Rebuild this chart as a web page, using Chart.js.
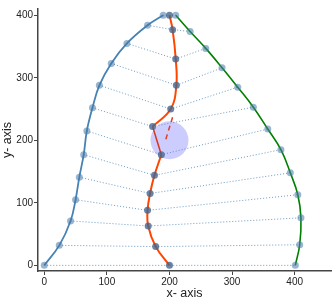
<!DOCTYPE html>
<html>
<head>
<meta charset="utf-8">
<script src="https://cdn.jsdelivr.net/npm/chart.js@4/dist/chart.umd.min.js"></script>
<style>
  html, body { margin: 0; padding: 0; background: #fff; }
  #c { display: block; }
</style>
</head>
<body>
<canvas id="c" width="332" height="306"></canvas>
<script>
// curve points, left (blue), middle (orange), right (green)
const blueX = [190, 165, 132, 107, 88, 77, 68, 63, 56, 50, 42, 24, 0];
const blueY = [400, 384, 355, 323, 288, 252, 215, 177, 141, 105, 71, 32, 0];
const orangeX = [200, 205, 210, 211, 202, 173, 187, 176, 169, 165, 166, 178, 200];
const orangeY = [400, 377, 330, 288, 250, 222, 177, 144, 115, 88, 63, 30, 0];
const greenX = [210, 233, 258, 284, 309, 334, 357, 378, 393, 405, 410, 408, 401];
const greenY = [400, 374, 347, 316, 285, 253, 218, 185, 148, 113, 76, 33, 0];
const dashX = [205, 193];
const dashY = [237, 198];
const circleX = [200];
const circleY = [200];
const xTicks = [0, 100, 200, 300, 400];
const yTicks = [0, 100, 200, 300, 400];

const pts = (xs, ys) => xs.map((x, i) => ({ x: x, y: ys[i] }));
const font = 'Liberation Sans, Arial, sans-serif';

const datasets = [];

// circle in the middle
datasets.push({
  data: pts(circleX, circleY),
  pointRadius: 19,
  pointBackgroundColor: 'rgba(0,0,255,0.2)',
  pointBorderWidth: 0,
  showLine: false,
  order: 20
});

// dotted connectors blue -> orange -> green
for (let i = 0; i < blueX.length; i++) {
  datasets.push({
    data: [{ x: blueX[i], y: blueY[i] }, { x: orangeX[i], y: orangeY[i] }, { x: greenX[i], y: greenY[i] }],
    showLine: true,
    borderColor: 'rgba(70,130,180,0.8)',
    borderWidth: 1,
    borderDash: [1, 2],
    pointRadius: 0,
    tension: 0,
    order: 10
  });
}

const marker = {
  pointRadius: 3.5,
  pointBorderWidth: 0,
  pointBackgroundColor: 'rgba(70,120,170,0.55)'
};

datasets.push(Object.assign({
  data: pts(blueX, blueY),
  showLine: true,
  borderColor: '#4682b4',
  borderWidth: 1.8,
  tension: 0.4,
  order: 2
}, marker));

datasets.push(Object.assign({
  data: pts(greenX, greenY),
  showLine: true,
  borderColor: '#008000',
  borderWidth: 1.6,
  tension: 0.4,
  order: 2
}, marker));

// orange middle curve, broken at the kink
datasets.push({
  data: pts(orangeX.slice(5, 7), orangeY.slice(5, 7)),
  showLine: true,
  borderColor: '#d8361e',
  borderWidth: 1.5,
  pointRadius: 0,
  tension: 0,
  order: 3
});
datasets.push({
  data: pts(dashX, dashY),
  showLine: true,
  borderColor: '#e2401c',
  borderWidth: 1.5,
  borderDash: [5, 4],
  pointRadius: 0,
  tension: 0,
  order: 3
});
datasets.push(Object.assign({}, marker, {
  data: pts(orangeX.slice(0, 6), orangeY.slice(0, 6)),
  showLine: true,
  borderColor: '#ff4500',
  borderWidth: 2,
  tension: 0.4,
  pointBackgroundColor: 'rgba(65,100,140,0.78)',
  order: 1
}));
datasets.push(Object.assign({}, marker, {
  data: pts(orangeX.slice(6), orangeY.slice(6)),
  showLine: true,
  borderColor: '#ff4500',
  borderWidth: 2,
  tension: 0.4,
  pointBackgroundColor: 'rgba(65,100,140,0.78)',
  order: 1
}));

const axis = (ticks, title, fit) => ({
  type: 'linear',
  afterBuildTicks: s => { s.ticks = ticks.map(v => ({ value: v })); },
  afterFit: s => {
    fit(s);
    s.paddingLeft = 0; s.paddingRight = 0; s.paddingTop = 0; s.paddingBottom = 0;
  },
  grid: { drawOnChartArea: false, drawTicks: true, tickLength: 4, color: '#444', lineWidth: 1 },
  border: { display: true, color: '#444', width: 1.5 },
  ticks: { font: { size: 10, family: font }, color: '#222', padding: 1, maxRotation: 0 },
  title: { display: true, text: title, font: { size: 12.5, family: font }, color: '#222', padding: { top: 0, bottom: 5 } }
});

const xAxis = axis(xTicks, 'x- axis', s => { s.height = 35; });
xAxis.min = -10; xAxis.max = 458;
const yAxis = axis(yTicks, 'y- axis', s => { s.width = 38; });
yAxis.min = -9; yAxis.max = 410;
yAxis.title.padding = { top: 0, bottom: 0 };

new Chart(document.getElementById('c'), {
  type: 'scatter',
  data: { datasets: datasets },
  options: {
    responsive: false,
    animation: false,
    devicePixelRatio: 1,
    events: [],
    layout: { autoPadding: false, padding: { top: 9, right: 1, left: 0, bottom: 0 } },
    plugins: { legend: { display: false }, tooltip: { enabled: false } },
    scales: { x: xAxis, y: yAxis }
  }
});
</script>
</body>
</html>
